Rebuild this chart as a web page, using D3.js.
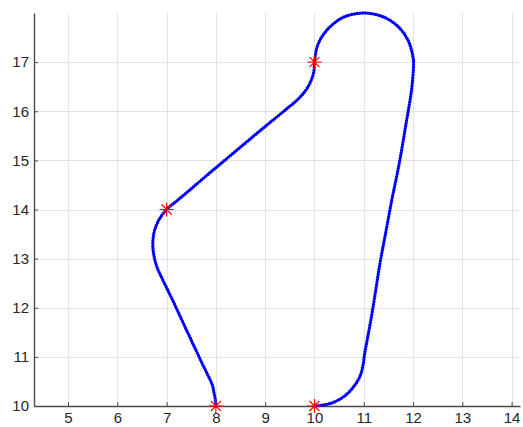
<!DOCTYPE html>
<html>
<head>
<meta charset="utf-8">
<script src="https://cdn.jsdelivr.net/npm/d3@7"></script>
<style>
  html, body { margin: 0; padding: 0; background: #fff; }
  #chart { width: 523px; height: 427px; }
  .tick text { font-family: "Liberation Sans", Arial, sans-serif; font-size: 15px; fill: #262626; }
</style>
</head>
<body>
<div id="chart"></div>
<script>
// path vertices (x, y)
var pathX = [8.00, 7.99, 7.96, 7.93, 7.72, 7.50, 7.30, 7.12, 6.95, 6.80, 6.74, 6.72, 6.75, 6.84, 7.00,
             7.25, 8.00, 9.00, 9.45, 9.66, 9.82, 9.93, 9.99, 10.00,
             10.06, 10.18, 10.36, 10.60, 11.00, 11.40, 11.70, 11.90, 12.00, 12.01,
             11.97, 11.86, 11.72, 11.57, 11.44, 11.33, 11.18, 11.08, 11.02,
             10.99, 10.93, 10.80, 10.62, 10.40, 10.18, 10.00];
var pathY = [10.00, 10.12, 10.28, 10.42, 10.87, 11.34, 11.77, 12.16, 12.51, 12.84, 13.08, 13.30, 13.55, 13.78, 14.00,
             14.21, 14.85, 15.69, 16.06, 16.24, 16.42, 16.62, 16.82, 17.00,
             17.33, 17.56, 17.76, 17.92, 18.00, 17.92, 17.72, 17.44, 17.10, 16.95,
             16.44, 15.76, 14.94, 14.20, 13.50, 12.91, 11.96, 11.40, 11.08,
             10.86, 10.62, 10.40, 10.21, 10.08, 10.02, 10.00];

// waypoints (red asterisks)
var wayX = [8, 7, 10, 10];
var wayY = [10, 14, 17, 10];

var xTicks = [5, 6, 7, 8, 9, 10, 11, 12, 13, 14];
var yTicks = [10, 11, 12, 13, 14, 15, 16, 17];

var width = 523, height = 427;
var margin = {top: 13, right: 3, bottom: 21, left: 34};

var svg = d3.select("#chart").append("svg").attr("width", width).attr("height", height);

var x = d3.scaleLinear().domain([4.31, 14.17]).range([margin.left, width - margin.right]);
var y = d3.scaleLinear().domain([10, 18]).range([height - margin.bottom, margin.top]);

// grid
svg.append("g").selectAll("line")
  .data(xTicks).enter().append("line")
  .attr("x1", d => Math.round(x(d)) + 0.5).attr("x2", d => Math.round(x(d)) + 0.5)
  .attr("y1", y(10)).attr("y2", margin.top)
  .attr("stroke", "#e3e3e3").attr("stroke-width", 1);

svg.append("g").selectAll("line")
  .data(yTicks).enter().append("line")
  .attr("y1", d => Math.round(y(d)) + 0.5).attr("y2", d => Math.round(y(d)) + 0.5)
  .attr("x1", margin.left).attr("x2", width - margin.right)
  .attr("stroke", "#e3e3e3").attr("stroke-width", 1);

// axes
var xAxis = svg.append("g")
  .attr("transform", "translate(0," + y(10) + ")")
  .call(d3.axisBottom(x).tickValues(xTicks).tickSizeInner(-4).tickSizeOuter(0).tickPadding(6).tickFormat(d3.format("d")));
var yAxis = svg.append("g")
  .attr("transform", "translate(" + margin.left + ",0)")
  .call(d3.axisLeft(y).tickValues(yTicks).tickSizeInner(-4).tickSizeOuter(0).tickPadding(5).tickFormat(d3.format("d")));

[xAxis, yAxis].forEach(function(a) {
  a.select(".domain").attr("stroke", "#4a4a4a").attr("stroke-width", 1.4);
  a.selectAll(".tick line").attr("stroke", "#4a4a4a");
});

// trajectory
var pts = pathX.map(function(d, i) { return [d, pathY[i]]; });
var line = d3.line()
  .x(d => x(d[0])).y(d => y(d[1]))
  .curve(d3.curveCatmullRom.alpha(0.5));

svg.append("path")
  .attr("d", line(pts))
  .attr("fill", "none")
  .attr("stroke", "#0000ff")
  .attr("stroke-width", 1.6);

svg.append("path")
  .attr("d", line(pts))
  .attr("fill", "none")
  .attr("stroke", "#0000ff")
  .attr("stroke-width", 3.4)
  .attr("stroke-linecap", "round")
  .attr("stroke-dasharray", "0 2.7");

// asterisk markers
var r = 7, rd = 5;
var stars = svg.append("g").selectAll("g")
  .data(wayX.map(function(d, i) { return [d, wayY[i]]; }))
  .enter().append("g")
  .attr("transform", d => "translate(" + x(d[0]) + "," + y(d[1]) + ")")
  .attr("stroke", "#ff0000").attr("stroke-width", 1.1);

stars.append("line").attr("x1", -r).attr("x2", r).attr("y1", 0).attr("y2", 0);
stars.append("line").attr("x1", 0).attr("x2", 0).attr("y1", -r).attr("y2", r);
stars.append("line").attr("x1", -rd).attr("x2", rd).attr("y1", -rd).attr("y2", rd);
stars.append("line").attr("x1", -rd).attr("x2", rd).attr("y1", rd).attr("y2", -rd);
</script>
</body>
</html>
